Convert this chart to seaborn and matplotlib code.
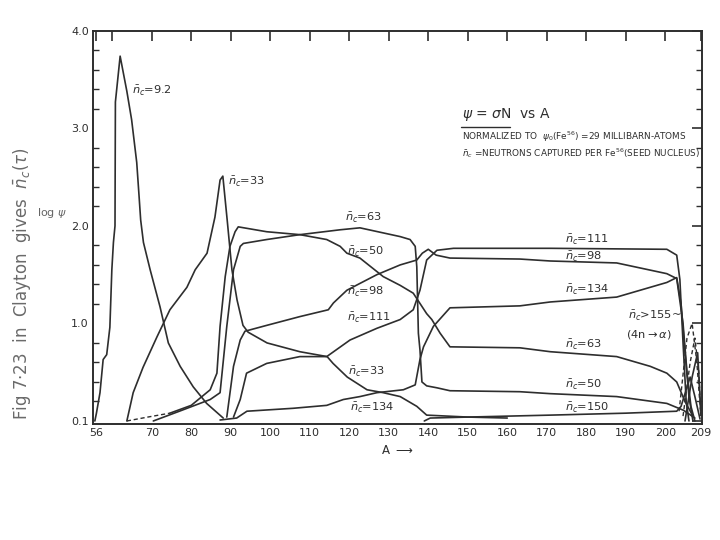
import numpy as np
import pandas as pd
import matplotlib
matplotlib.use('Agg')
import matplotlib.pyplot as plt
import seaborn as sns
from matplotlib.lines import Line2D

# curves: mass number A vs log psi
a_9 = [55.6, 56.0, 56.9, 57.7, 58.6, 59.4, 59.9, 60.3, 60.7, 60.8, 62.0, 62.8, 63.7, 64.9, 66.2,
       66.8, 67.2, 67.9, 69.6, 72.1, 74.2, 77.2, 80.5, 83.9, 88.1]
v_9 = [0.0, 0.08, 0.29, 0.63, 0.68, 0.96, 1.55, 1.83, 2.0, 3.27, 3.74, 3.57, 3.38, 3.09, 2.65,
       2.30, 2.06, 1.83, 1.55, 1.17, 0.80, 0.56, 0.35, 0.18, 0.03]

a_33 = [63.7, 65.3, 67.8, 71.3, 74.6, 78.9, 81.0, 84.0, 86.0, 87.3, 88.0, 89.1, 90.3, 91.6, 93.1,
        94.4, 99.2, 107.5, 114.4, 115.9, 119.5, 124.5, 128.6, 132.9, 137.1, 139.6, 150.0, 160.0]
v_33 = [0.0, 0.29, 0.55, 0.86, 1.14, 1.37, 1.55, 1.72, 2.09, 2.47, 2.51, 2.06, 1.55, 1.24, 0.98,
        0.91, 0.80, 0.71, 0.66, 0.59, 0.45, 0.32, 0.29, 0.25, 0.15, 0.06, 0.04, 0.03]

a_50_dash = [63.7, 69.0, 74.6]
v_50_dash = [0.0, 0.04, 0.08]
a_50 = [74.6, 80.0, 84.8, 86.5, 87.3, 88.6, 89.8, 91.1, 91.9, 99.1, 107.5, 114.3, 117.7, 119.4,
        122.7, 128.6, 132.9, 136.2, 139.6, 140.9, 143.0, 145.5, 163.2, 170.9, 187.7, 196.2, 200.4,
        202.9, 205.0, 207.0]
v_50 = [0.08, 0.16, 0.32, 0.49, 0.97, 1.48, 1.79, 1.94, 1.99, 1.94, 1.91, 1.86, 1.79, 1.72,
        1.67, 1.48, 1.39, 1.31, 1.10, 1.04, 0.90, 0.76, 0.75, 0.71, 0.66, 0.56, 0.49,
        0.40, 0.20, 0.05]

a_63 = [70.4, 77.0, 84.8, 87.3, 89.0, 90.7, 92.4, 93.2, 99.1, 107.5, 117.7, 122.7, 132.9, 135.4,
        136.7, 137.1, 137.5, 137.9, 138.4, 139.6, 142.2, 145.5, 163.2, 170.9, 187.7, 200.4, 204.6,
        207.5]
v_63 = [0.0, 0.10, 0.22, 0.29, 0.97, 1.55, 1.79, 1.82, 1.86, 1.91, 1.96, 1.98, 1.89, 1.86,
        1.79, 1.58, 0.90, 0.73, 0.40, 0.36, 0.34, 0.31, 0.30, 0.28, 0.25, 0.18, 0.11, 0.03]

a_98 = [89.0, 90.7, 92.4, 93.6, 99.1, 107.5, 114.7, 116.0, 119.4, 122.7, 127.0, 132.9, 137.1,
        138.5, 140.0, 142.0, 145.5, 163.2, 170.9, 187.7, 200.4, 202.9, 204.5, 205.5, 206.5, 207.5]
v_98 = [0.04, 0.56, 0.83, 0.92, 0.98, 1.07, 1.14, 1.21, 1.34, 1.41, 1.50, 1.60, 1.65,
        1.72, 1.76, 1.70, 1.67, 1.66, 1.64, 1.62, 1.51, 1.46, 1.00, 0.50, 0.15, 0.0]

a_111 = [90.7, 92.4, 94.0, 99.1, 107.5, 114.3, 120.2, 127.0, 132.9, 136.2, 137.9, 139.6, 142.2,
         146.4, 170.9, 200.4, 202.9, 203.7, 204.5, 205.3, 206.0]
v_111 = [0.04, 0.22, 0.49, 0.59, 0.66, 0.66, 0.83, 0.95, 1.04, 1.14, 1.34, 1.65, 1.75,
         1.77, 1.77, 1.76, 1.70, 1.45, 0.80, 0.20, 0.0]

a_134 = [87.3, 91.5, 94.1, 105.8, 114.3, 118.5, 122.7, 127.0, 133.7, 136.7, 137.9, 138.8, 141.3,
         145.5, 163.2, 170.9, 187.7, 200.4, 202.9, 204.0, 205.0, 206.0, 207.0]
v_134 = [0.01, 0.03, 0.10, 0.13, 0.16, 0.22, 0.25, 0.29, 0.32, 0.37, 0.63, 0.76, 0.97,
         1.16, 1.18, 1.22, 1.27, 1.42, 1.47, 1.20, 0.70, 0.25, 0.0]

a_150 = [139.0, 140.5, 150.0, 170.9, 190.0, 202.9, 204.0, 205.3, 206.3, 207.5, 208.8]
v_150 = [0.0, 0.03, 0.04, 0.06, 0.08, 0.10, 0.15, 0.32, 0.45, 0.25, 0.02]

# n > 155 cycling curves near the end of the chain
a_155a = [203.5, 205.5, 206.8, 208.0, 209.0]
v_155a = [0.10, 0.85, 1.00, 0.60, 0.05]
a_155b = [204.5, 206.3, 207.5, 208.5, 209.0]
v_155b = [0.05, 0.60, 0.85, 0.50, 0.05]
a_155c = [205.0, 206.8, 208.2, 209.0]
v_155c = [0.0, 0.45, 0.70, 0.10]

x_ticks = [56, 60, 70, 80, 90, 100, 110, 120, 130, 140, 150, 160, 170, 180, 190, 200, 209]
x_ticklabels = ['56', '', '70', '80', '90', '100', '110', '120', '130', '140', '150', '160',
                '170', '180', '190', '200', '209']
y_ticks = [0, 1, 2, 3, 4]
y_ticklabels = ['0.1', '1.0', '2.0', '3.0', '4.0']

# curve labels (A, log psi, text)
lab_a = [65.0, 89.3, 119.0, 119.5, 119.5, 119.5, 119.8, 120.3, 174.6, 174.6, 174.6, 174.6, 174.6, 174.6]
lab_v = [3.38, 2.45, 2.08, 1.73, 1.32, 1.06, 0.50, 0.13, 1.86, 1.68, 1.34, 0.78, 0.37, 0.13]
lab_t = ['9.2', '33', '63', '50', '98', '111', '33', '134', '111', '98', '134', '63', '50', '150']

sns.set_style('white')
plt.rcParams['font.family'] = ['DejaVu Sans']
plt.rcParams['mathtext.fontset'] = 'dejavusans'

ink = '#2e2e2e'
fig = plt.figure(figsize=(7.2, 5.4), dpi=100)
ax = fig.add_axes([0.129, 0.215, 0.846, 0.728])

solid = [(a_9, v_9), (a_33, v_33), (a_50, v_50), (a_63, v_63), (a_98, v_98), (a_111, v_111),
         (a_134, v_134), (a_150, v_150), (a_155c, v_155c)]
for a, v in solid:
    sns.lineplot(x=a, y=v, ax=ax, color=ink, lw=1.2, sort=False, estimator=None)
for a, v in [(a_50_dash, v_50_dash), (a_155a, v_155a), (a_155b, v_155b)]:
    sns.lineplot(x=a, y=v, ax=ax, color=ink, lw=1.0, sort=False, estimator=None, linestyle=(0, (3, 2)))

ax.set_xlim(55.1, 209.3)
ax.set_ylim(-0.03, 4.0)

for s in ax.spines.values():
    s.set_color(ink)
    s.set_linewidth(1.4)

ax.set_xticks(x_ticks)
ax.set_xticklabels(x_ticklabels, fontsize=8, color=ink)
ax.set_yticks(y_ticks)
ax.set_yticklabels(y_ticklabels, fontsize=8, color=ink)
ax.set_yticks(np.arange(0, 4.01, 0.2), minor=True)
ax.tick_params(axis='both', which='major', direction='in', top=True, right=True,
               length=7, width=1.2, color=ink, pad=3)
ax.tick_params(axis='y', which='minor', direction='in', left=True, right=True, length=4, width=1.0, color=ink)

for a, v, t in zip(lab_a, lab_v, lab_t):
    ax.text(a, v, r'$\bar{n}_c$=' + t, fontsize=8.2, color=ink, va='center', ha='left')
ax.text(190.5, 1.08, r'$\bar{n}_c$>155~', fontsize=8.2, color=ink, va='center', ha='left')
ax.text(190.0, 0.89, r'(4n$\rightarrow\alpha$)', fontsize=8.2, color=ink, va='center', ha='left')

# legend block in the upper right
ax.text(148.6, 3.14, r'$\psi$ = $\sigma$N  vs A', fontsize=10, color=ink, va='center', ha='left')
ax.add_line(Line2D([0.604, 0.684], [0.755, 0.755], transform=ax.transAxes, color=ink, lw=1.0))
ax.text(148.6, 2.91, r'NORMALIZED TO  $\psi_0$(Fe$^{56}$) =29 MILLIBARN-ATOMS', fontsize=6.4,
        color=ink, va='center', ha='left')
ax.text(148.6, 2.75, r'$\bar{n}_c$ =NEUTRONS CAPTURED PER Fe$^{56}$(SEED NUCLEUS)', fontsize=6.4,
        color=ink, va='center', ha='left')

ax.set_xlabel(r'A $\longrightarrow$', fontsize=8.5, color=ink, labelpad=4)
ax.set_ylabel('')

# handwritten notes on the scan
fig.text(0.072, 0.605, r'log $\psi$', fontsize=8, color='#666666', ha='center', va='center')
fig.text(0.030, 0.475, r'Fig 7$\cdot$23  in  Clayton  gives  $\bar{n}_c(\tau)$', fontsize=12,
         color='#6a6a6a', rotation=90, ha='center', va='center')

fig.savefig('out.png', dpi=100, facecolor='white')
